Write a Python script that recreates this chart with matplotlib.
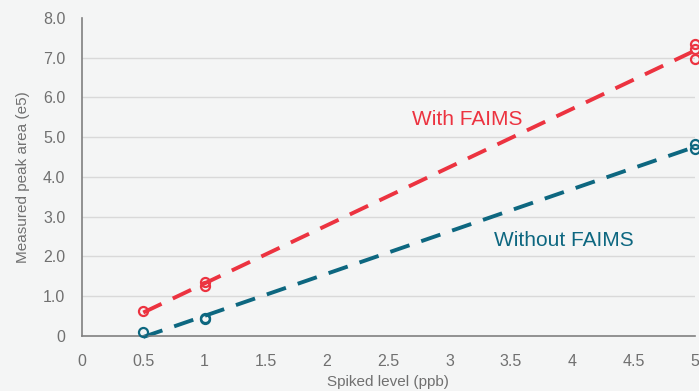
import numpy as np
import matplotlib.pyplot as plt

plt.rcParams["font.family"] = ["Liberation Sans", "DejaVu Sans"]

# Replicate measurements of peak area (e5) at each spiked level (ppb)
with_x = [0.5, 1, 1, 5, 5, 5]
with_y = [0.63, 1.35, 1.25, 7.35, 7.22, 6.97]
without_x = [0.5, 1, 1, 5, 5]
without_y = [0.10, 0.45, 0.42, 4.83, 4.70]

x_ticks = [0, 0.5, 1, 1.5, 2, 2.5, 3, 3.5, 4, 4.5, 5]
x_tick_labels = ["0", "0.5", "1", "1.5", "2", "2.5", "3", "3.5", "4", "4.5", "5"]
y_ticks = [0, 1, 2, 3, 4, 5, 6, 7, 8]
y_tick_labels = ["0", "1.0", "2.0", "3.0", "4.0", "5.0", "6.0", "7.0", "8.0"]

RED = "#ec3340"
TEAL = "#0d6780"
BG = "#f4f5f5"
GREY = "#707070"

fig = plt.figure(figsize=(6.99, 3.91), dpi=100, facecolor=BG)
ax = fig.add_axes([0.1173, 0.1407, 0.8767, 0.8133], facecolor=BG)

for y in y_ticks[1:-1]:
    ax.axhline(y, color="#d9d9d9", lw=1.0, zorder=0)


def fit_line(xs, ys):
    k, b = np.polyfit(xs, ys, 1)
    xx = np.array([min(xs), max(xs)])
    return xx, k * xx + b


for xs, ys, col in [(with_x, with_y, RED), (without_x, without_y, TEAL)]:
    lx, ly = fit_line(xs, ys)
    ax.plot(lx, ly, color=col, lw=2.8, dashes=(5.2, 3.2), clip_on=False, zorder=2)
    ax.plot(xs, ys, "o", ms=6.5, mfc="none", mec=col, mew=1.6,
            clip_on=False, zorder=3)

ax.text(3.14, 5.45, "With FAIMS", color=RED, fontsize=15, ha="center", va="center")
ax.text(3.93, 2.4, "Without FAIMS", color=TEAL, fontsize=15, ha="center", va="center")

ax.set_xlim(0, 5)
ax.set_ylim(0, 8)
ax.set_xticks(x_ticks)
ax.set_xticklabels(x_tick_labels)
ax.set_yticks(y_ticks)
ax.set_yticklabels(y_tick_labels)
ax.tick_params(length=0, labelsize=11.5, colors=GREY)
ax.tick_params(axis="x", pad=13)
ax.tick_params(axis="y", pad=12)

ax.set_xlabel("Spiked level (ppb)", color=GREY, fontsize=11, labelpad=4)
ax.set_ylabel("Measured peak area (e5)", color=GREY, fontsize=11, labelpad=9)

for side in ["top", "right"]:
    ax.spines[side].set_visible(False)
for side in ["left", "bottom"]:
    ax.spines[side].set_color("#808080")
    ax.spines[side].set_linewidth(1.2)

fig.savefig("out.png", dpi=100, facecolor=BG)
